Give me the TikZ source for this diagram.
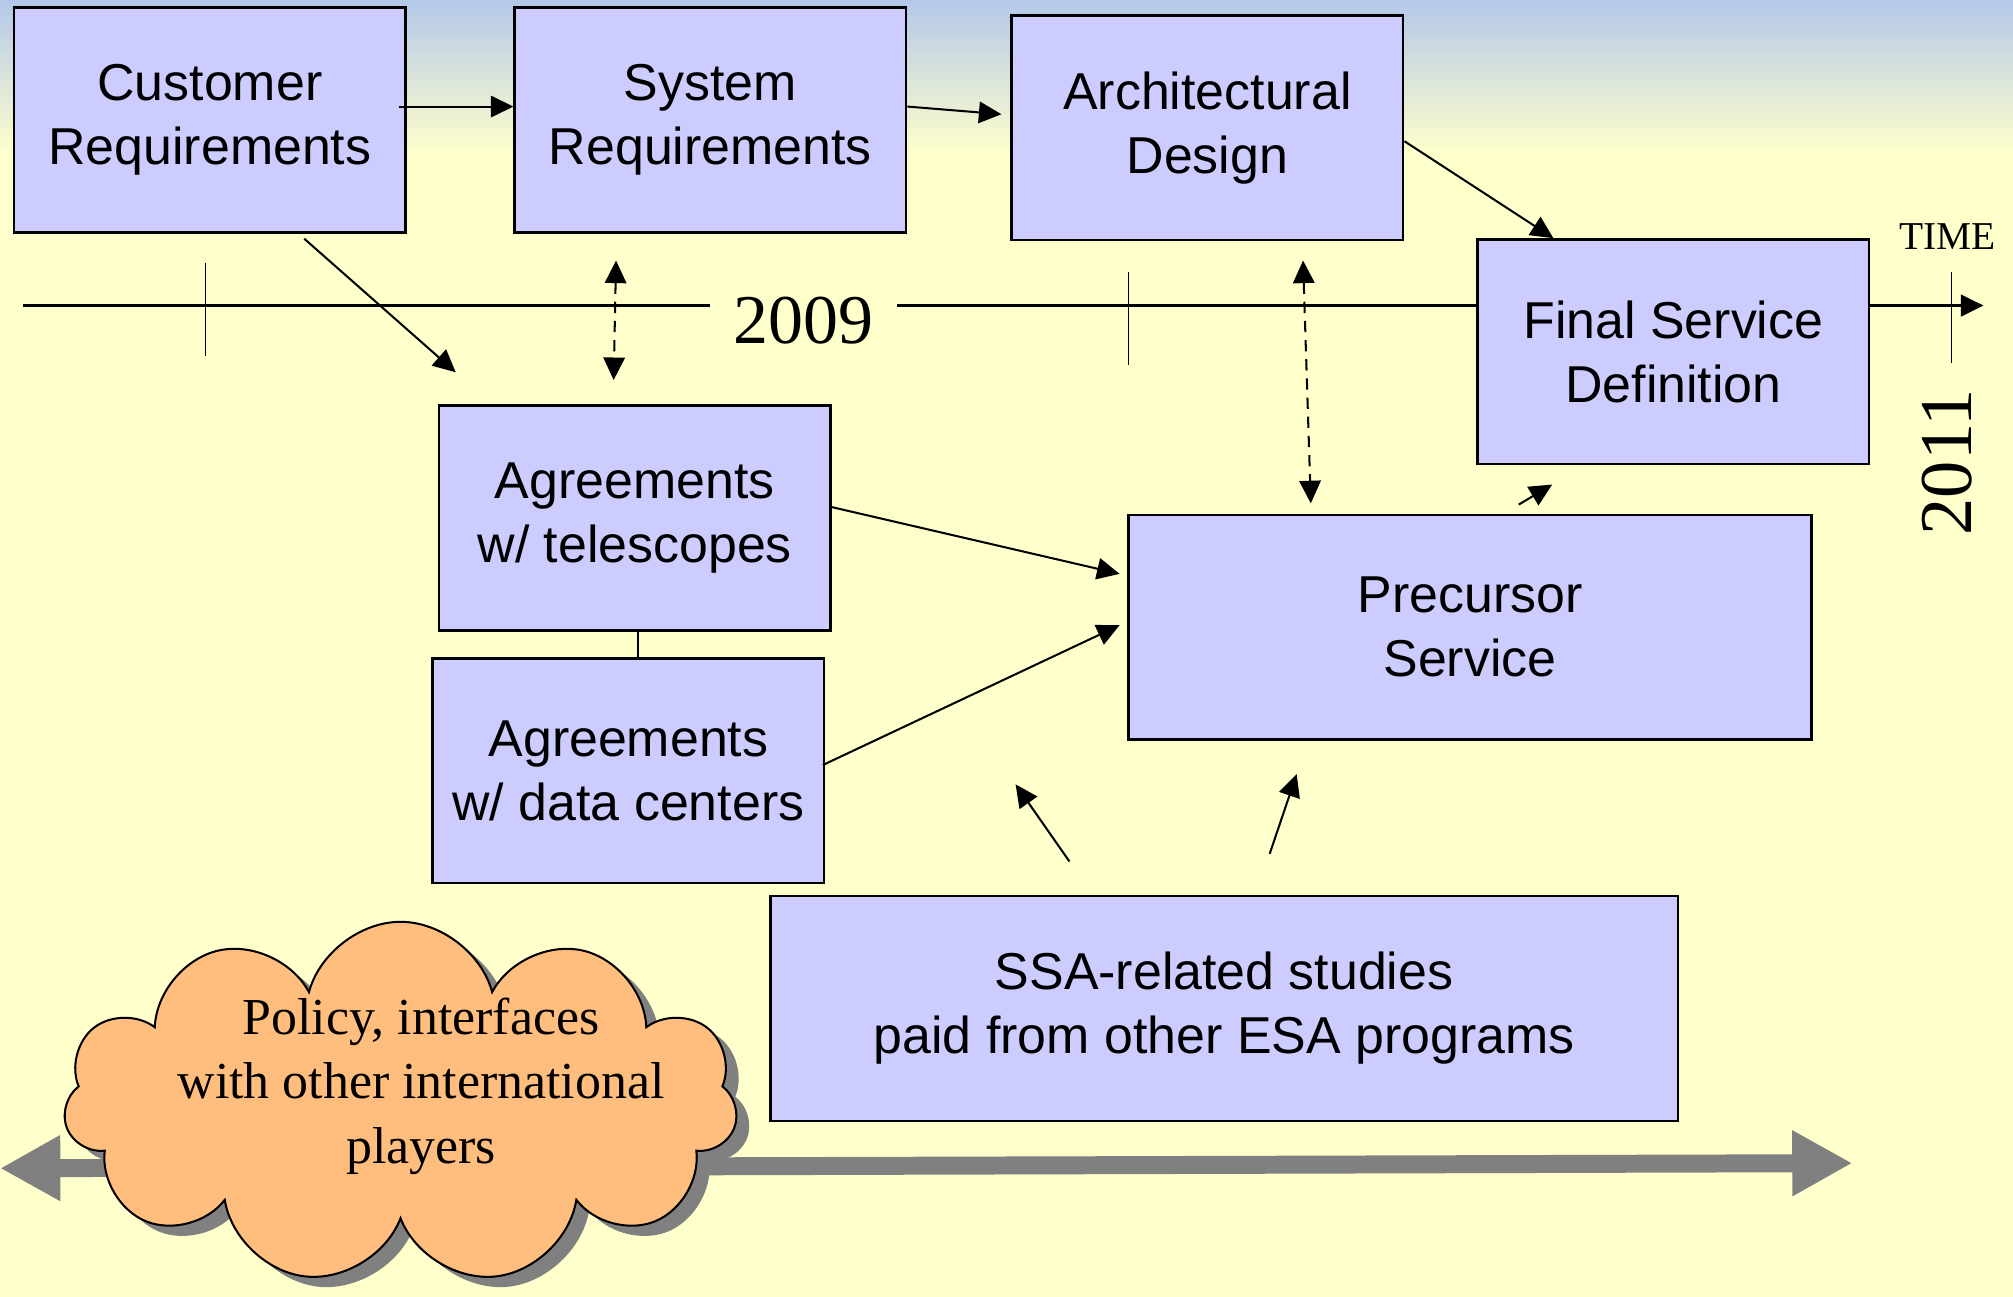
\documentclass[tikz,border=0pt]{standalone}
\usepackage{fontspec}
\setmainfont{Liberation Serif}
\setsansfont{Liberation Sans}
\usepackage{tikz}
\usetikzlibrary{positioning,arrows.meta,shapes.symbols,shadows}

\definecolor{boxblue}{HTML}{CCCCFF}
\definecolor{cloudorange}{HTML}{FFBE7D}
\definecolor{bgyellow}{HTML}{FFFFCC}
\definecolor{bgblue}{HTML}{B4C8EA}
\definecolor{arrowgray}{HTML}{808080}

\tikzset{
  box/.style={draw, line width=1.1pt, fill=boxblue, minimum width=6.1cm, minimum height=3.5cm,
    align=center, font=\sffamily\fontsize{23}{28.5}\selectfont},
  arr/.style={-{Triangle[length=10pt,width=9.5pt]}, line width=0.9pt},
  darr/.style={{Triangle[length=10pt,width=9.5pt]}-{Triangle[length=10pt,width=9.5pt]}, line width=0.9pt,
    dash pattern=on 5pt off 3.5pt},
}

\begin{document}
\begin{tikzpicture}[x=0.02cm, y=-0.02cm]
        \useasboundingbox (0,0) rectangle (1568,1010);
        \fill[bgyellow] (0,0) rectangle (1568,1010);
        \shade[top color=bgblue, bottom color=bgyellow] (0,0) rectangle (1568,120);

        % time line
        \coordinate (tstart) at (18,238);
        \coordinate (tend) at (1545,238);
        \node[font=\fontsize{31}{31}\selectfont, inner xsep=0.36cm] (yr09) at (626,250) {2009};
        \draw[line width=1.3pt] (tstart) -- (tstart -| yr09.west);
        \draw[line width=1.3pt, -{Triangle[length=10pt,width=9.5pt]}] (tstart -| yr09.east) -- (tend);
        \draw[line width=0.7pt] (160,205) -- (160,277);
        \draw[line width=0.7pt] (879,212) -- (879,284);
        \draw[line width=0.7pt] (1520,212) -- (1520,283);
        \node[font=\fontsize{17.5}{17.5}\selectfont] (time) at (1517,184) {TIME};
        \node[font=\fontsize{33}{33}\selectfont, rotate=90] (yr11) at (1517,360) {2011};

        % gray arrow at the bottom
        \coordinate (gleft) at (0,910);
        \coordinate (gright) at (1443,906);
        \draw[arrowgray, line width=0.28cm, {Triangle[length=0.94cm,width=0.96cm]}-{Triangle[length=0.94cm,width=0.96cm]}] (gleft) -- (gright);

        \node[cloud, cloud puffs=11, aspect=1.9, draw, line width=0.9pt, fill=cloudorange,
          minimum width=10.5cm, minimum height=5.64cm,
          drop shadow={shadow xshift=0.2cm, shadow yshift=-0.16cm, fill=arrowgray, opacity=1}] (policy) at (312,859) {};
        \node[align=center, font=\fontsize{23}{28.5}\selectfont] (policytxt) at (328,846) {Policy, interfaces\\with other international\\players};

        % boxes
        \node[box] (cust) at (163.5,93.5) {Customer\\Requirements};
        \node[box, right=1.66cm of cust] (sysreq) {System\\Requirements};
        \node[box] (arch) at (940.5,99.5) {Architectural\\Design};
        \node[box] (final) at (1303.5,274) {Final Service\\Definition};
        \node[box] (agtel) at (494.5,403.5) {Agreements\\w/ telescopes};
        \node[box, below=0.4cm of agtel, xshift=-0.1cm] (agdata) {Agreements\\w/ data centers};
        \node[box, minimum width=10.64cm] (prec) at (1145,488.5) {Precursor\\Service};
        \node[box, minimum width=14.14cm] (ssa) at (953.5,785.5) {SSA-related studies\\paid from other ESA programs};

        % connectors
        \draw[arr] ([xshift=-0.12cm,yshift=0.21cm]cust.east) -- ([yshift=0.21cm]sysreq.west);
        \draw[arr] ([yshift=0.21cm]sysreq.east) -- ([xshift=-0.14cm,yshift=0.21cm]arch.west);
        \draw[arr] ([yshift=-0.21cm]arch.east) -- ([xshift=-1.87cm]final.north);
        \coordinate (agtop) at (355,290);
        \draw[arr] ([xshift=1.47cm,yshift=-0.08cm]cust.south) -- (agtop);
        \draw[darr] ([xshift=-1.47cm,yshift=-0.42cm]sysreq.south) -- ([xshift=-0.33cm,yshift=0.38cm]agtel.north);
        \draw[darr] ([xshift=1.49cm,yshift=-0.3cm]arch.south) -- ([xshift=-2.48cm,yshift=0.16cm]prec.north);
        \draw[arr] ([yshift=0.17cm]agtel.east) -- ([xshift=-0.12cm,yshift=0.83cm]prec.west);
        \draw[arr] ([xshift=-0.04cm,yshift=0.09cm]agdata.east) -- ([xshift=-0.12cm,yshift=0.03cm]prec.west);
        \draw[line width=0.7pt] ([xshift=0.05cm]agtel.south) -- ([xshift=0.05cm]agtel.south |- agdata.north);
        \draw[arr] ([xshift=0.76cm,yshift=0.14cm]prec.north) -- ([xshift=-1.89cm,yshift=-0.3cm]final.south);
        \draw[arr] ([xshift=-2.41cm,yshift=0.52cm]ssa.north) -- ([xshift=-7.08cm,yshift=-0.68cm]prec.south);
        \draw[arr] ([xshift=0.71cm,yshift=0.64cm]ssa.north) -- ([xshift=-2.7cm,yshift=-0.52cm]prec.south);
\end{tikzpicture}
\end{document}
